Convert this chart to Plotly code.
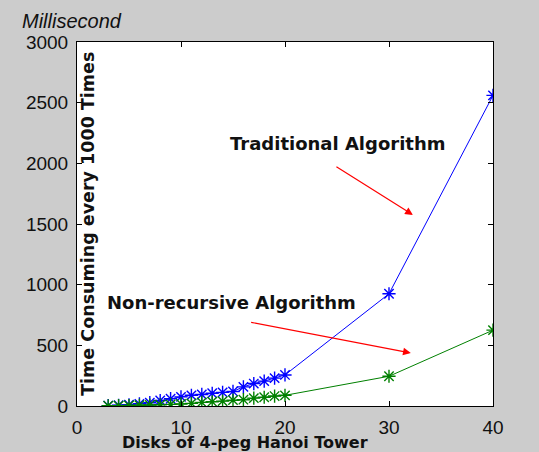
import plotly.graph_objects as go

disks = [3, 4, 5, 6, 7, 8, 9, 10, 11, 12, 13, 14, 15, 16, 17, 18, 19, 20, 30, 40]
traditional = [3, 6, 10, 18, 27, 45, 60, 75, 88, 95, 105, 112, 120, 158, 185, 205, 230, 256, 925, 2560]
nonrecursive = [2, 3, 4, 6, 8, 10, 13, 17, 22, 30, 35, 40, 48, 52, 65, 72, 82, 88, 245, 625]

x_ticks = [0, 10, 20, 30, 40]
y_ticks = [0, 500, 1000, 1500, 2000, 2500, 3000]

FONT = "Liberation Sans, Arial, sans-serif"
BOLD = "DejaVu Sans, Verdana, sans-serif"

fig = go.Figure()
fig.add_trace(go.Scatter(
    x=disks, y=traditional, mode="lines+markers",
    line=dict(color="#0000ff", width=1),
    marker=dict(symbol="asterisk-open", size=11, color="#0000ff",
                line=dict(color="#0000ff", width=1.4)),
    name="Traditional Algorithm", showlegend=False))
fig.add_trace(go.Scatter(
    x=disks, y=nonrecursive, mode="lines+markers",
    line=dict(color="#008000", width=1),
    marker=dict(symbol="asterisk-open", size=11, color="#008000",
                line=dict(color="#008000", width=1.4)),
    name="Non-recursive Algorithm", showlegend=False))

axis_common = dict(
    showgrid=False, zeroline=False, showline=True, linecolor="black",
    linewidth=1, mirror="ticks", ticks="inside", ticklen=5,
    tickcolor="black", ticklabelstandoff=4,
    tickfont=dict(family=FONT, size=19, color="#111111"),
)

fig.update_layout(
    width=539, height=452,
    paper_bgcolor="#cccccc", plot_bgcolor="white",
    margin=dict(l=77, r=46, t=42, b=46),
    xaxis=dict(range=[0, 40], tickvals=x_ticks, **axis_common),
    yaxis=dict(range=[0, 3000], tickvals=y_ticks, **axis_common),
    font=dict(family=FONT),
    annotations=[
        dict(text="<i>Millisecond</i>", xref="paper", yref="paper", x=-0.138, y=1.0,
             xanchor="left", yanchor="bottom", showarrow=False,
             font=dict(family=FONT, size=20, color="#111111"),
             yshift=8),
        dict(text="<b>Disks of 4-peg Hanoi Tower</b>", xref="paper", yref="paper",
             x=0.405, y=0, yshift=-25, xanchor="center", yanchor="top",
             showarrow=False, font=dict(family=BOLD, size=16, color="#111111")),
        dict(text="<b>Time Consuming every 1000 Times</b>", xref="paper", yref="paper",
             x=0.026, y=0.5, xanchor="center", yanchor="middle", textangle=-90,
             showarrow=False, font=dict(family=BOLD, size=17.5, color="#111111")),
        dict(text="<b>Traditional Algorithm</b>", x=25.1, y=2160, xref="x", yref="y",
             showarrow=False, font=dict(family=BOLD, size=18, color="#111111")),
        dict(text="<b>Non-recursive Algorithm</b>", x=14.9, y=857, xref="x", yref="y",
             showarrow=False, font=dict(family=BOLD, size=18, color="#111111")),
        dict(text="", x=32.3, y=1575, ax=24.8, ay=1979, xref="x", yref="y",
             axref="x", ayref="y", showarrow=True, arrowhead=2, arrowsize=1.3,
             arrowwidth=1.2, arrowcolor="#ff0000"),
        dict(text="", x=32.1, y=437, ax=16.6, ay=692, xref="x", yref="y",
             axref="x", ayref="y", showarrow=True, arrowhead=2, arrowsize=1.3,
             arrowwidth=1.2, arrowcolor="#ff0000"),
    ],
)

fig.write_html("out.html", config={"displayModeBar": False},
               post_script="document.body.style.margin='0';")
